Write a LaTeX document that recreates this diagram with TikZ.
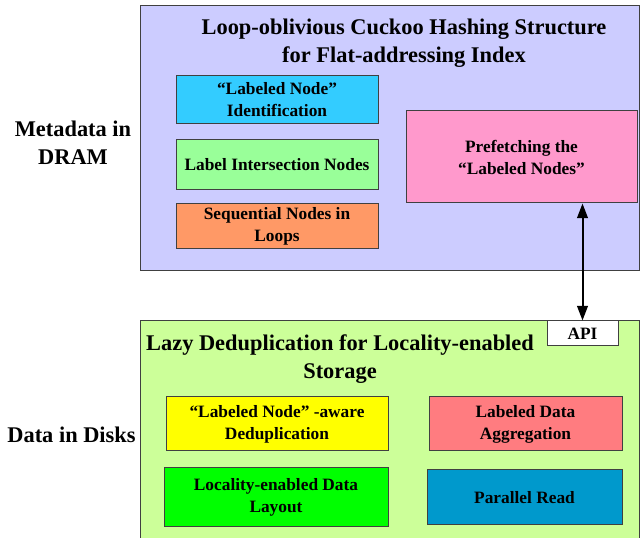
\documentclass[tikz,border=0pt]{standalone}
\usepackage{fontspec}
\setmainfont{Liberation Serif}
\usetikzlibrary{arrows.meta}

\definecolor{dramfill}{HTML}{CCCCFF}
\definecolor{diskfill}{HTML}{CCFF99}
\definecolor{identfill}{HTML}{33CCFF}
\definecolor{interfill}{HTML}{99FF99}
\definecolor{seqfill}{HTML}{FF9966}
\definecolor{prefill}{HTML}{FF99CC}
\definecolor{dedupfill}{HTML}{FFFF00}
\definecolor{aggrfill}{HTML}{FF7C80}
\definecolor{layoutfill}{HTML}{00FF00}
\definecolor{readfill}{HTML}{0099CC}

\begin{document}
\begin{tikzpicture}[x=0.75pt, y=-0.75pt,
  box/.style={draw=black!75, line width=0.75pt, rectangle, align=center, inner sep=0pt,
    font=\fontsize{13}{16.5}\selectfont\bfseries},
  head/.style={align=center, font=\fontsize{16.8}{21}\selectfont\bfseries}]

\useasboundingbox (0,0) rectangle (640,538);
\clip (0,0) rectangle (640,538);

% the two layers
\node [box, fill=dramfill, minimum width=374.25pt, minimum height=198.75pt] (dram) at (389.5,138.5) {};
\node [box, fill=diskfill, minimum width=374.25pt, minimum height=180pt] (disk) at (389.5,441) {};

\node [head] (dramtitle) at (404,43) {Loop-oblivious Cuckoo Hashing Structure\\for Flat-addressing Index};
\node [head] (disktitle) at (340,359.5) {Lazy Deduplication for Locality-enabled\\Storage};

\node [head] (dramlabel) at (73,143) {Metadata in\\DRAM};
\node [head] (disklabel) at (71.5,435) {Data in Disks};

% metadata blocks
\node [box, fill=identfill, minimum width=151.5pt, minimum height=36pt] (ident) at (277,100) {“Labeled Node”\\Identification};
\node [box, fill=interfill, minimum width=151.5pt, minimum height=37.5pt] (inter) at (277,165) {Label Intersection Nodes};
\node [box, fill=seqfill, minimum width=151.5pt, minimum height=33.75pt] (seq) at (277,226.5) {Sequential Nodes in\\Loops};
\node [box, fill=prefill, minimum width=173.25pt, minimum height=69pt] (prefetch) at (521.5,157) {Prefetching the\\“Labeled Nodes”};

% data blocks
\node [box, fill=dedupfill, minimum width=166.5pt, minimum height=40.5pt] (dedup) at (277,424) {“Labeled Node” -aware\\Deduplication};
\node [box, fill=aggrfill, minimum width=144.75pt, minimum height=40.5pt] (aggr) at (525.5,424) {Labeled Data\\Aggregation};
\node [box, fill=layoutfill, minimum width=168pt, minimum height=44.25pt] (layout) at (276,497.5) {Locality-enabled Data\\Layout};
\node [box, fill=readfill, minimum width=146.25pt, minimum height=41.25pt] (read) at (524.5,497.5) {Parallel Read};

\node [box, fill=white, minimum width=53.25pt, minimum height=18.75pt] (api) at (582.5,333.5) {API};

\draw [{Triangle[length=11pt,width=8pt]}-{Triangle[length=11pt,width=8pt]}, line width=1.5pt]
  (prefetch.south -| api.north) -- (api.north);

\end{tikzpicture}
\end{document}
